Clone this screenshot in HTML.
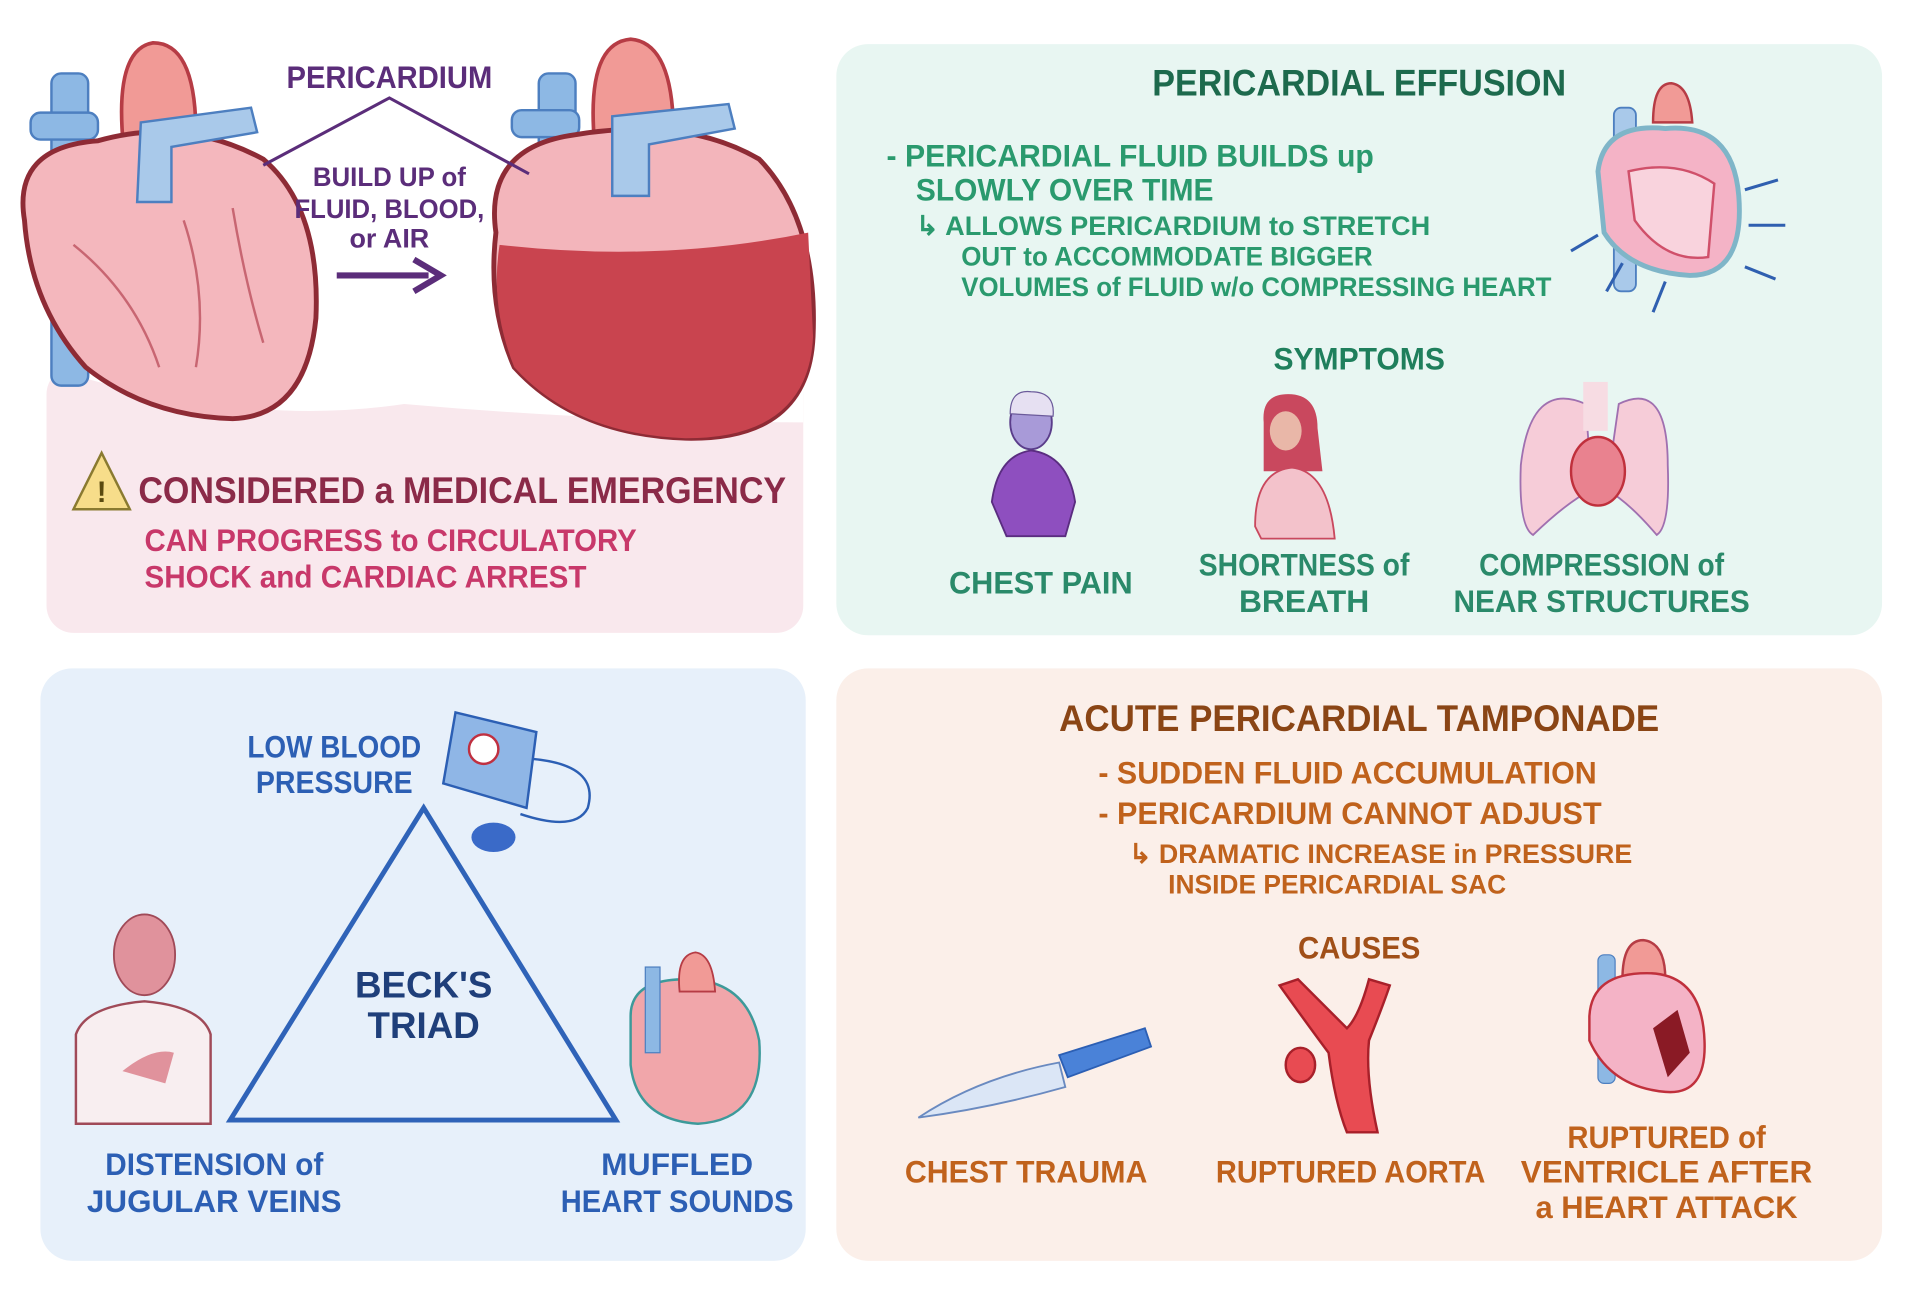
<!DOCTYPE html>
<html><head><meta charset="utf-8"><style>
html,body{margin:0;padding:0;background:#fff;width:1920px;height:1300px;overflow:hidden}
svg text{font-family:"Liberation Sans Narrow","Liberation Sans",sans-serif;font-weight:bold}
</style></head><body>
<svg width="1920" height="1300" viewBox="0 0 1568 1062" preserveAspectRatio="none" xmlns="http://www.w3.org/2000/svg">
<rect x="38" y="300" width="618" height="217" rx="22" fill="#f9e8ed"/>
<rect x="683" y="36" width="854" height="483" rx="26" fill="#e8f6f2"/>
<rect x="33" y="546" width="625" height="484" rx="26" fill="#e7f0fa"/>
<rect x="683" y="546" width="854" height="484" rx="26" fill="#fbefe9"/>
<path d="M38 300 Q200 350 330 330 Q500 345 656 345 L656 290 L38 290 Z" fill="#fff"/>

<!-- heart 1 -->
<rect x="42" y="60" width="30" height="255" rx="8" fill="#8db8e4" stroke="#4d7fc0" stroke-width="2"/>
<rect x="25" y="92" width="55" height="22" rx="8" fill="#8db8e4" stroke="#4d7fc0" stroke-width="2"/>
<path d="M100 110 Q95 40 125 35 Q160 35 160 110 Z" fill="#f19a96" stroke="#b63c45" stroke-width="3"/>
<path d="M20 180 Q10 120 80 115 Q150 95 215 130 Q262 170 258 260 Q250 340 190 342 Q120 340 70 300 Q25 250 20 180 Z" fill="#f4b7bd" stroke="#8e2b35" stroke-width="4"/>
<path d="M115 100 L205 88 L210 108 L140 120 L140 165 L112 165 Z" fill="#a9c9ea" stroke="#4d7fc0" stroke-width="2"/>
<path d="M60 200 Q110 240 130 300 M150 180 Q170 240 160 300 M190 170 Q200 230 215 280" stroke="#c86672" stroke-width="2" fill="none"/>

<!-- heart 2 -->
<rect x="440" y="60" width="30" height="255" rx="8" fill="#8db8e4" stroke="#4d7fc0" stroke-width="2"/>
<rect x="418" y="90" width="55" height="22" rx="8" fill="#8db8e4" stroke="#4d7fc0" stroke-width="2"/>
<path d="M485 110 Q480 35 515 32 Q550 35 550 110 Z" fill="#f19a96" stroke="#b63c45" stroke-width="3"/>
<path d="M405 190 Q395 120 470 110 Q560 95 620 130 Q668 180 664 275 Q660 360 560 358 Q470 355 420 300 Q398 250 405 190 Z" fill="#f3b5bb" stroke="#8e2b35" stroke-width="4"/>
<path d="M408 200 Q540 215 660 190 L664 275 Q660 358 560 358 Q470 355 420 300 Q400 250 408 200 Z" fill="#c9444f"/>
<path d="M500 95 L595 85 L600 105 L530 118 L530 160 L500 160 Z" fill="#a9c9ea" stroke="#4d7fc0" stroke-width="2"/>

<text x="318" y="72" font-size="26" fill="#5b2d7a" text-anchor="middle" textLength="168" lengthAdjust="spacingAndGlyphs">PERICARDIUM</text>
<path d="M215 135 L318 80 L432 142" stroke="#5b2d7a" stroke-width="2.5" fill="none"/>
<text x="318" y="152" font-size="22" fill="#5b2d7a" text-anchor="middle" textLength="125" lengthAdjust="spacingAndGlyphs">BUILD UP of</text>
<text x="318" y="178" font-size="22" fill="#5b2d7a" text-anchor="middle" textLength="155" lengthAdjust="spacingAndGlyphs">FLUID, BLOOD,</text>
<text x="318" y="202" font-size="22" fill="#5b2d7a" text-anchor="middle">or AIR</text>
<path d="M275 225 L350 225" stroke="#5b2d7a" stroke-width="5"/>
<path d="M338 212 L360 225 L338 238" stroke="#5b2d7a" stroke-width="5" fill="none"/>

<path d="M83 370 L106 416 L60 416 Z" fill="#f7dd8a" stroke="#8a7a30" stroke-width="2"/>
<text x="83" y="410" font-size="24" fill="#5a4a10" text-anchor="middle">!</text>
<text x="113" y="411" font-size="30" fill="#8b2a48" textLength="529" lengthAdjust="spacingAndGlyphs">CONSIDERED a MEDICAL EMERGENCY</text>
<text x="118" y="450" font-size="26" fill="#c8386a" textLength="402" lengthAdjust="spacingAndGlyphs">CAN PROGRESS to CIRCULATORY</text>
<text x="118" y="480" font-size="26" fill="#c8386a" textLength="361" lengthAdjust="spacingAndGlyphs">SHOCK and CARDIAC ARREST</text>

<text x="1110" y="78" font-size="30" fill="#1d6a4d" text-anchor="middle" textLength="338" lengthAdjust="spacingAndGlyphs">PERICARDIAL EFFUSION</text>
<text x="724" y="136" font-size="26" fill="#2a9a6e" textLength="398" lengthAdjust="spacingAndGlyphs">- PERICARDIAL FLUID BUILDS up</text>
<text x="748" y="164" font-size="26" fill="#2a9a6e" textLength="243" lengthAdjust="spacingAndGlyphs">SLOWLY OVER TIME</text>
<text x="748" y="192" font-size="22" fill="#2a9a6e" textLength="420" lengthAdjust="spacingAndGlyphs">↳ ALLOWS PERICARDIUM to STRETCH</text>
<text x="785" y="217" font-size="22" fill="#2a9a6e" textLength="336" lengthAdjust="spacingAndGlyphs">OUT to ACCOMMODATE BIGGER</text>
<text x="785" y="242" font-size="22" fill="#2a9a6e" textLength="482" lengthAdjust="spacingAndGlyphs">VOLUMES of FLUID w/o COMPRESSING HEART</text>
<rect x="1318" y="88" width="18" height="150" rx="6" fill="#a9c9ea" stroke="#4d7fc0" stroke-width="1.5"/>
<path d="M1350 100 Q1350 68 1365 68 Q1380 70 1382 100 Z" fill="#f19a96" stroke="#b63c45" stroke-width="2"/>
<path d="M1305 140 Q1310 100 1360 105 Q1415 100 1420 160 Q1425 225 1380 225 Q1330 222 1310 190 Z" fill="#f4b3c6" stroke="#7fb5c8" stroke-width="4"/>
<path d="M1330 140 Q1370 130 1400 150 L1395 210 Q1360 215 1335 180 Z" fill="#f9d3dd" stroke="#d0506a" stroke-width="2"/>
<g stroke="#2f5fb0" stroke-width="2.5" fill="#2f5fb0">
<path d="M1425 155 L1452 147"/><path d="M1428 184 L1458 184"/><path d="M1425 218 L1450 228"/><path d="M1305 192 L1283 205"/><path d="M1325 215 L1312 238"/><path d="M1360 230 L1350 255"/>
</g>
<text x="1110" y="302" font-size="26" fill="#1f7f5c" text-anchor="middle" textLength="140" lengthAdjust="spacingAndGlyphs">SYMPTOMS</text>
<ellipse cx="842" cy="345" rx="17" ry="22" fill="#a89ad8" stroke="#5a3d8a" stroke-width="1.5"/>
<path d="M825 338 Q825 318 842 320 Q862 320 860 340 Z" fill="#e6e0f2" stroke="#6b5a9a"/>
<path d="M810 410 Q815 372 842 368 Q872 372 878 410 L870 438 L822 438 Z" fill="#8e4fbf" stroke="#5a2d80" stroke-width="1.5"/>
<path d="M1032 345 Q1030 322 1052 322 Q1076 322 1076 350 L1080 385 L1032 385 Z" fill="#c9485e"/>
<ellipse cx="1050" cy="352" rx="13" ry="16" fill="#e9b7a8"/>
<path d="M1025 430 Q1025 385 1055 382 Q1085 385 1090 440 L1030 440 Z" fill="#f3c2cb" stroke="#c9485e" stroke-width="1.5"/>
<path d="M1295 330 Q1250 310 1242 380 Q1240 430 1252 437 Q1280 410 1300 400 Z" fill="#f6ccd8" stroke="#a070b0" stroke-width="1.5"/>
<path d="M1322 330 Q1362 310 1362 380 Q1364 430 1353 437 Q1330 410 1312 400 Z" fill="#f6ccd8" stroke="#a070b0" stroke-width="1.5"/>
<rect x="1293" y="312" width="20" height="40" fill="#f7dce3"/>
<ellipse cx="1305" cy="385" rx="22" ry="28" fill="#e9828f" stroke="#c0303c" stroke-width="2"/>
<text x="850" y="485" font-size="26" fill="#2a8a6a" text-anchor="middle" textLength="150" lengthAdjust="spacingAndGlyphs">CHEST PAIN</text>
<text x="1065" y="470" font-size="26" fill="#2a8a6a" text-anchor="middle" textLength="172" lengthAdjust="spacingAndGlyphs">SHORTNESS of</text>
<text x="1065" y="500" font-size="26" fill="#2a8a6a" text-anchor="middle">BREATH</text>
<text x="1308" y="470" font-size="26" fill="#2a8a6a" text-anchor="middle" textLength="200" lengthAdjust="spacingAndGlyphs">COMPRESSION of</text>
<text x="1308" y="500" font-size="26" fill="#2a8a6a" text-anchor="middle" textLength="242" lengthAdjust="spacingAndGlyphs">NEAR STRUCTURES</text>

<text x="273" y="619" font-size="26" fill="#2c5fb4" text-anchor="middle" textLength="142" lengthAdjust="spacingAndGlyphs">LOW BLOOD</text>
<text x="273" y="648" font-size="26" fill="#2c5fb4" text-anchor="middle" textLength="128" lengthAdjust="spacingAndGlyphs">PRESSURE</text>
<path d="M372 582 L438 598 L430 660 L362 640 Z" fill="#8fb6e6" stroke="#2c5fb4" stroke-width="2"/>
<circle cx="395" cy="612" r="12" fill="#fff" stroke="#c03040" stroke-width="2"/>
<path d="M435 620 Q490 625 480 660 Q470 680 425 665" stroke="#2c5fb4" stroke-width="2" fill="none"/>
<ellipse cx="403" cy="684" rx="18" ry="12" fill="#3a6ac8"/>
<path d="M346 660 L188 915 L503 915 Z" fill="none" stroke="#2f63b8" stroke-width="4"/>
<text x="346" y="815" font-size="30" fill="#1f3f7a" text-anchor="middle">BECK'S</text>
<text x="346" y="848" font-size="30" fill="#1f3f7a" text-anchor="middle">TRIAD</text>
<ellipse cx="118" cy="780" rx="25" ry="33" fill="#e0929c" stroke="#a04a58" stroke-width="1.5"/>
<path d="M62 918 L62 845 Q70 822 118 818 Q165 822 172 845 L172 918 Z" fill="#f8eef0" stroke="#a04a58" stroke-width="2"/>
<path d="M100 875 Q125 855 142 860 L135 885 Z" fill="#e0929c"/>
<path d="M515 830 Q515 800 560 800 Q610 800 620 850 Q625 915 570 918 Q520 915 515 870 Z" fill="#f1a6aa" stroke="#3d9a9a" stroke-width="2"/>
<rect x="527" y="790" width="12" height="70" fill="#8db8e4" stroke="#4d7fc0"/>
<path d="M555 810 Q552 780 568 778 Q582 780 584 810 Z" fill="#f19a96" stroke="#b63c45" stroke-width="1.5"/>
<text x="175" y="960" font-size="26" fill="#2c5fb4" text-anchor="middle" textLength="178" lengthAdjust="spacingAndGlyphs">DISTENSION of</text>
<text x="175" y="990" font-size="26" fill="#2c5fb4" text-anchor="middle" textLength="208" lengthAdjust="spacingAndGlyphs">JUGULAR VEINS</text>
<text x="553" y="960" font-size="26" fill="#2c5fb4" text-anchor="middle">MUFFLED</text>
<text x="553" y="990" font-size="26" fill="#2c5fb4" text-anchor="middle" textLength="190" lengthAdjust="spacingAndGlyphs">HEART SOUNDS</text>

<text x="1110" y="597" font-size="30" fill="#8a4515" text-anchor="middle" textLength="490" lengthAdjust="spacingAndGlyphs">ACUTE PERICARDIAL TAMPONADE</text>
<text x="897" y="640" font-size="26" fill="#c0621c" textLength="407" lengthAdjust="spacingAndGlyphs">- SUDDEN FLUID ACCUMULATION</text>
<text x="897" y="673" font-size="26" fill="#c0621c" textLength="411" lengthAdjust="spacingAndGlyphs">- PERICARDIUM CANNOT ADJUST</text>
<text x="922" y="705" font-size="22" fill="#c0621c" textLength="411" lengthAdjust="spacingAndGlyphs">↳ DRAMATIC INCREASE in PRESSURE</text>
<text x="954" y="730" font-size="22" fill="#c0621c" textLength="276" lengthAdjust="spacingAndGlyphs">INSIDE PERICARDIAL SAC</text>
<text x="1110" y="783" font-size="26" fill="#a04f18" text-anchor="middle" textLength="100" lengthAdjust="spacingAndGlyphs">CAUSES</text>
<path d="M750 913 Q800 880 865 868 L870 888 Q810 905 750 913 Z" fill="#dbe6f6" stroke="#6a8ac0" stroke-width="1.5"/>
<path d="M865 862 L935 840 L940 855 L872 880 Z" fill="#4a82d8" stroke="#2c5fb4" stroke-width="1.5"/>
<path d="M1045 805 Q1070 840 1085 860 Q1090 900 1100 925 L1125 925 Q1115 880 1118 850 Q1130 820 1135 805 L1118 800 Q1110 830 1100 840 Q1090 830 1060 800 Z" fill="#e84b52" stroke="#a8202a" stroke-width="2"/>
<ellipse cx="1062" cy="870" rx="12" ry="14" fill="#e84b52" stroke="#a8202a" stroke-width="2"/>
<rect x="1305" y="780" width="14" height="105" rx="5" fill="#8db8e4" stroke="#4d7fc0"/>
<path d="M1325 800 Q1325 768 1342 768 Q1360 770 1360 800 Z" fill="#f19a96" stroke="#b63c45" stroke-width="2"/>
<path d="M1298 830 Q1300 795 1345 795 Q1390 795 1392 850 Q1394 895 1360 892 Q1315 888 1298 850 Z" fill="#f4b3c6" stroke="#c0303c" stroke-width="2"/>
<path d="M1350 840 L1370 825 L1380 860 L1362 880 Z" fill="#8a1a25"/>
<text x="838" y="966" font-size="26" fill="#c0621c" text-anchor="middle" textLength="198" lengthAdjust="spacingAndGlyphs">CHEST TRAUMA</text>
<text x="1103" y="966" font-size="26" fill="#c0621c" text-anchor="middle" textLength="220" lengthAdjust="spacingAndGlyphs">RUPTURED AORTA</text>
<text x="1361" y="938" font-size="26" fill="#c0621c" text-anchor="middle" textLength="162" lengthAdjust="spacingAndGlyphs">RUPTURED of</text>
<text x="1361" y="966" font-size="26" fill="#c0621c" text-anchor="middle" textLength="238" lengthAdjust="spacingAndGlyphs">VENTRICLE AFTER</text>
<text x="1361" y="995" font-size="26" fill="#c0621c" text-anchor="middle" textLength="214" lengthAdjust="spacingAndGlyphs">a HEART ATTACK</text>
</svg>
</body></html>
